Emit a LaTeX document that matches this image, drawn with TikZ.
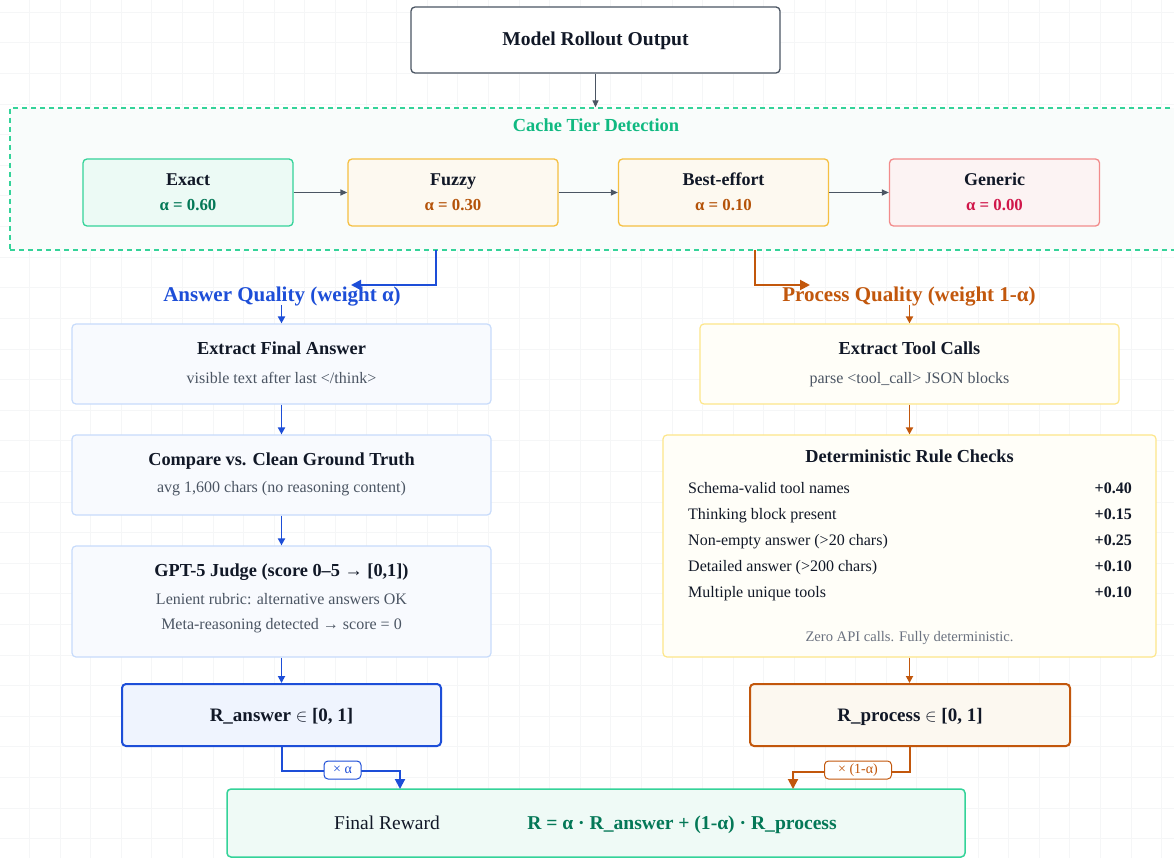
\documentclass[tikz,border=0pt]{standalone}
\usepackage{fontspec}
\setmainfont{Liberation Serif}
\usetikzlibrary{arrows.meta}
\definecolor{gridc}{HTML}{F5F6F7}
\definecolor{ink}{HTML}{111827}
\definecolor{subink}{HTML}{4B5563}
\definecolor{footink}{HTML}{6B7280}
\definecolor{slate}{HTML}{4B5563}
\definecolor{grn}{HTML}{34D399}
\definecolor{grntxt}{HTML}{10B981}
\definecolor{grndark}{HTML}{047857}
\definecolor{exfill}{HTML}{ECFAF5}
\definecolor{amb}{HTML}{F5C042}
\definecolor{ambfill}{HTML}{FDF9F0}
\definecolor{ambtxt}{HTML}{B45309}
\definecolor{red1}{HTML}{F28B8B}
\definecolor{redfill}{HTML}{FCF3F3}
\definecolor{redtxt}{HTML}{D0164A}
\definecolor{blu}{HTML}{1D4ED8}
\definecolor{blufill}{HTML}{F8FAFE}
\definecolor{bluline}{HTML}{C7DBFB}
\definecolor{blufill2}{HTML}{EFF4FE}
\definecolor{org}{HTML}{C2570C}
\definecolor{yel}{HTML}{FDE68A}
\definecolor{yelfill}{HTML}{FFFEF8}
\definecolor{orgfill}{HTML}{FCF8F0}
\definecolor{finfill}{HTML}{EFFAF6}
\definecolor{cachefill}{HTML}{F9FCFB}
\tikzset{
  basebox/.style={rectangle, rounded corners=4pt, inner sep=0pt},
  btxt/.style={inner sep=0pt, anchor=base},
  titletxt/.style={btxt, font=\fontsize{18.3}{20}\selectfont\bfseries, text=ink},
  subtxt/.style={btxt, font=\fontsize{16}{18}\selectfont, text=subink},
  tiertitle/.style={btxt, font=\fontsize{18}{20}\selectfont\bfseries, text=ink},
  tieralpha/.style={btxt, font=\fontsize{16.8}{18}\selectfont\bfseries},
  tierbox/.style={basebox, minimum width=210pt, minimum height=67pt, line width=1.3pt},
  lbox/.style={basebox, draw=bluline, fill=blufill, line width=1.2pt, minimum width=419pt},
  rbox/.style={basebox, draw=yel, fill=yelfill, line width=1.2pt},
  rowtxt/.style={font=\fontsize{16}{18}\selectfont, text=ink, inner sep=0pt, anchor=base west},
  rowval/.style={font=\fontsize{16}{18}\selectfont\bfseries, text=ink, inner sep=0pt, anchor=base east},
  garrow/.style={draw=slate, line width=1.3pt, -{Triangle[length=7pt,width=6pt]}},
  barrow/.style={draw=blu, line width=2pt, -{Triangle[length=10pt,width=10pt]}},
  oarrow/.style={draw=org, line width=2pt, -{Triangle[length=10pt,width=10pt]}},
  bstep/.style={draw=blu, line width=1.8pt, -{Triangle[length=7pt,width=7pt]}},
  ostep/.style={draw=org, line width=1.8pt, -{Triangle[length=7pt,width=7pt]}},
  mulbox/.style={rectangle, rounded corners=4pt, fill=white, line width=1pt, inner xsep=0pt, inner ysep=0pt,
    minimum height=18pt, font=\fontsize{14}{15}\selectfont},
}
\begin{document}
\begin{tikzpicture}[x=1pt,y=-1pt]
\useasboundingbox (0,0) rectangle (1174,858);
\clip (0,0) rectangle (1174,858);
\fill[white] (0,0) rectangle (1174,858);
\foreach \i in {0,...,38} \draw[gridc, line width=0.8pt] ({29.3+30.6*\i},0) -- ++(0,858);
\foreach \i in {0,...,28} \draw[gridc, line width=0.8pt] (0,{12.3+30.6*\i}) -- ++(1174,0);

% top
\node[basebox, draw=slate, fill=white, line width=1.3pt, minimum width=369pt, minimum height=66pt] (mro) at (595.5,40) {};
\node[btxt, font=\fontsize{19.6}{21}\selectfont\bfseries, text=ink] (mrot) at (595.5,45.5) {Model Rollout Output};

% cache container
\node[rectangle, draw=grn, fill=cachefill, line width=1.3pt, dash pattern=on 5pt off 4pt,
      minimum width=1175pt, minimum height=142pt, inner sep=0pt] (cache) at (597.5,179) {};
\node[btxt, font=\fontsize{18.4}{20}\selectfont\bfseries, text=grntxt] (cachet) at (596,132) {Cache Tier Detection};
\draw[garrow] (mro.south) -- (mro.south |- cache.north);

% tiers
\node[tierbox, draw=grn, fill=exfill] (ex) at (188,192.5) {};
\node[tiertitle] (ext) at (188,186) {Exact};
\node[tieralpha, text=grndark] (exa) at (188,210.7) {α = 0.60};
\node[tierbox, draw=amb, fill=ambfill] (fz) at (453,192.5) {};
\node[tiertitle] (fzt) at (453,186) {Fuzzy};
\node[tieralpha, text=ambtxt] (fza) at (453,210.7) {α = 0.30};
\node[tierbox, draw=amb, fill=ambfill] (be) at (723.5,192.5) {};
\node[tiertitle] (bet) at (723.5,186) {Best-effort};
\node[tieralpha, text=ambtxt] (bea) at (723.5,210.7) {α = 0.10};
\node[tierbox, draw=red1, fill=redfill] (gn) at (994.5,192.5) {};
\node[tiertitle] (gnt) at (994.5,186) {Generic};
\node[tieralpha, text=redtxt] (gna) at (994.5,210.7) {α = 0.00};
\draw[garrow] (ex.east) -- (fz.west);
\draw[garrow] (fz.east) -- (be.west);
\draw[garrow] (be.east) -- (gn.west);

% branch labels
\coordinate (cA) at (436,250);
\coordinate (cAend) at (351,285);
\coordinate (cP) at (755,250);
\coordinate (cPend) at (810,285);
\draw[barrow] (cA) |- (cAend);
\draw[oarrow] (cP) |- (cPend);
\node[btxt, font=\fontsize{21}{23}\selectfont\bfseries, text=blu] (aq) at (282,301.5) {Answer Quality (weight α)};
\node[btxt, font=\fontsize{21}{23}\selectfont\bfseries, text=org] (pq) at (909,301.5) {Process Quality (weight 1-α)};

% left column
\node[lbox, minimum height=80pt] (efa) at (281.5,364) {};
\node[titletxt] (efat) at (281.5,354) {Extract Final Answer};
\node[subtxt] (efas) at (281.5,383) {visible text after last </think>};
\node[lbox, minimum height=80pt] (cmp) at (281.5,475) {};
\node[titletxt] (cmpt) at (281.5,465) {Compare vs. Clean Ground Truth};
\node[subtxt] (cmps) at (281.5,492.5) {avg 1,600 chars (no reasoning content)};
\node[lbox, minimum height=111pt] (gpt) at (281.5,601.5) {};
\node[titletxt] (gptt) at (281.5,576.5) {GPT-5 Judge (score 0–5 → [0,1])};
\node[subtxt] (gpts1) at (281.5,604) {Lenient rubric: alternative answers OK};
\node[subtxt] (gpts2) at (281.5,629) {Meta-reasoning detected → score = 0};
\node[basebox, draw=blu, fill=blufill2, line width=2pt, minimum width=319pt, minimum height=62pt] (ra) at (281.5,715) {};
\node[btxt, font=\fontsize{19}{21}\selectfont\bfseries, text=ink] (rat) at (281.5,721.5) {R\_answer $\in$ [0, 1]};
\coordinate (aqfoot) at (281.5,305);
\draw[bstep] (aqfoot) -- (efa.north);
\draw[bstep] (efa.south) -- (cmp.north);
\draw[bstep] (cmp.south) -- (gpt.north);
\draw[bstep] (gpt.south) -- (ra.north);

% right column
\node[rbox, minimum width=419pt, minimum height=80pt] (etc) at (909.5,364) {};
\node[titletxt] (etct) at (909.5,354) {Extract Tool Calls};
\node[subtxt] (etcs) at (909.5,383) {parse <tool\_call> JSON blocks};
\node[rbox, minimum width=493pt, minimum height=222pt] (drc) at (909.5,546) {};
\node[titletxt] (drct) at (909.5,462.5) {Deterministic Rule Checks};
\node[rowtxt] (r1) at (688,493) {Schema-valid tool names};
\node[rowval] (v1) at (1132,493) {+0.40};
\node[rowtxt] (r2) at (688,519) {Thinking block present};
\node[rowval] (v2) at (1132,519) {+0.15};
\node[rowtxt] (r3) at (688,545) {Non-empty answer (>20 chars)};
\node[rowval] (v3) at (1132,545) {+0.25};
\node[rowtxt] (r4) at (688,571) {Detailed answer (>200 chars)};
\node[rowval] (v4) at (1132,571) {+0.10};
\node[rowtxt] (r5) at (688,597) {Multiple unique tools};
\node[rowval] (v5) at (1132,597) {+0.10};
\node[btxt, font=\fontsize{14.6}{16}\selectfont, text=footink] (drcf) at (909.5,641) {Zero API calls. Fully deterministic.};
\node[basebox, draw=org, fill=orgfill, line width=2pt, minimum width=320pt, minimum height=62pt] (rp) at (910,715) {};
\node[btxt, font=\fontsize{19}{21}\selectfont\bfseries, text=ink] (rpt) at (910,721.5) {R\_process $\in$ [0, 1]};
\coordinate (pqfoot) at (909.5,305);
\draw[ostep] (pqfoot) -- (etc.north);
\draw[ostep] (etc.south) -- (drc.north -| etc.south);
\draw[ostep] (drc.south) -- (rp.north -| drc.south);

% final
\node[basebox, draw=grn, fill=finfill, line width=1.5pt, minimum width=738pt, minimum height=68pt] (fin) at (596,823) {};
\node[btxt, font=\fontsize{19.5}{21}\selectfont, text=ink] (fint) at (387,829) {Final Reward};
\node[btxt, font=\fontsize{19.6}{21}\selectfont\bfseries, text=grndark] (finf) at (682,829) {R = α · R\_answer + (1-α) · R\_process};
\coordinate (bjoin) at (400,770.5);
\coordinate (finL) at (400,789);
\coordinate (ojoin) at (793,771.5);
\coordinate (finR) at (793,789);
\draw[barrow] (ra.south) |- (bjoin) -- (finL);
\draw[oarrow] (rp.south) |- (ojoin) -- (finR);
\node[mulbox, draw=blu, text=blu, minimum width=37pt] (xa) at (342.5,770) {× α};
\node[mulbox, draw=org, text=org, minimum width=67pt] (xp) at (858,770) {× (1-α)};
\end{tikzpicture}
\end{document}
